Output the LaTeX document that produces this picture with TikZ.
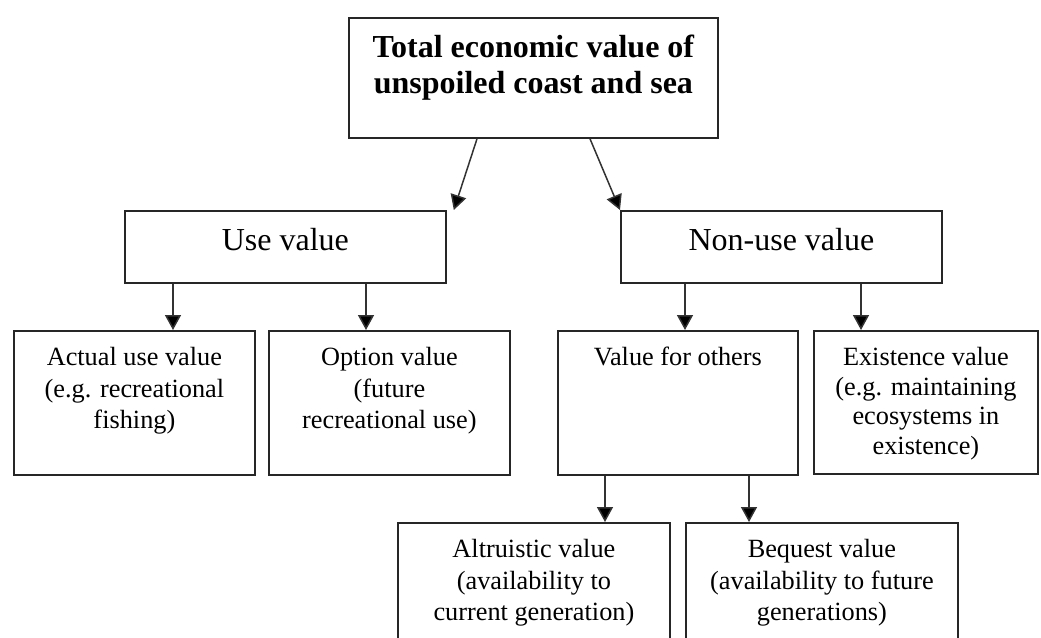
\documentclass[tikz,border=0pt]{standalone}
\usepackage{fontspec}
\setmainfont{Liberation Serif}
\usetikzlibrary{arrows.meta,calc}
\newcommand{\boxtext}[4]{\parbox[t][#2][t]{#1}{\centering\rule{0pt}{#3}#4\par}}
\begin{document}
\begin{tikzpicture}[x=1pt,y=-1pt,
  box/.style={draw=black!85, line width=1.8pt, inner sep=0pt, anchor=north west},
  big/.style={font=\fontsize{32}{36}\selectfont},
  small/.style={font=\fontsize{26.3}{31.5}\selectfont},
  arr/.style={draw=black!80, line width=1.5pt, -{Triangle[width=16pt,length=15pt,fill=black]}}]
\useasboundingbox (0,0) rectangle (1041,637);
\clip (0,0) rectangle (1041,637);
\fill[white] (0,0) rectangle (1041,637);
% top
\node[box, big] (top) at (348,17) {\boxtext{369pt}{120pt}{40pt}{\bfseries Total economic value of\\unspoiled coast and sea}};
% second level
\node[box, big] (use) at (124,210) {\boxtext{321pt}{72pt}{40pt}{Use value}};
\node[box, big] (nonuse) at (620,210) {\boxtext{321pt}{72pt}{40pt}{Non-use value}};
% third level
\node[box, small] (actual) at (13,330) {\boxtext{241pt}{144pt}{35pt}{Actual use value\\(e.g. recreational\\fishing)}};
\node[box, small] (option) at (268,330) {\boxtext{241pt}{144pt}{35pt}{Option value\\(future\\recreational use)}};
\node[box, small] (others) at (557,330) {\boxtext{240pt}{144pt}{35pt}{Value for others}};
\node[box, font=\fontsize{26.3}{29.5}\selectfont] (exist) at (813,330) {\boxtext{224pt}{143pt}{35pt}{Existence value\\(e.g. maintaining\\ecosystems in\\existence)}};
% fourth level
\node[box, small] (altru) at (397,522) {\boxtext{272pt}{140pt}{35pt}{Altruistic value\\(availability to\\current generation)}};
\node[box, small] (bequest) at (685,522) {\boxtext{272pt}{140pt}{35pt}{Bequest value\\(availability to future\\generations)}};
% connectors
\draw[arr] ($(top.south west)+(129,0)$) -- ($(use.north east)+(7,0)$);
\draw[arr] ($(top.south west)+(242,0)$) -- ($(nonuse.north west)+(0,0)$);
\draw[arr] ($(use.south west)+(49,0)$) coordinate (u1) -- (u1 |- actual.north);
\draw[arr] ($(use.south west)+(242,0)$) coordinate (u2) -- (u2 |- option.north);
\draw[arr] ($(nonuse.south west)+(65,0)$) coordinate (n1) -- (n1 |- others.north);
\draw[arr] ($(nonuse.south west)+(241,0)$) coordinate (n2) -- (n2 |- exist.north);
\draw[arr] ($(others.south west)+(48,0)$) coordinate (o1) -- (o1 |- altru.north);
\draw[arr] ($(others.south west)+(192,0)$) coordinate (o2) -- (o2 |- bequest.north);
\end{tikzpicture}
\end{document}
